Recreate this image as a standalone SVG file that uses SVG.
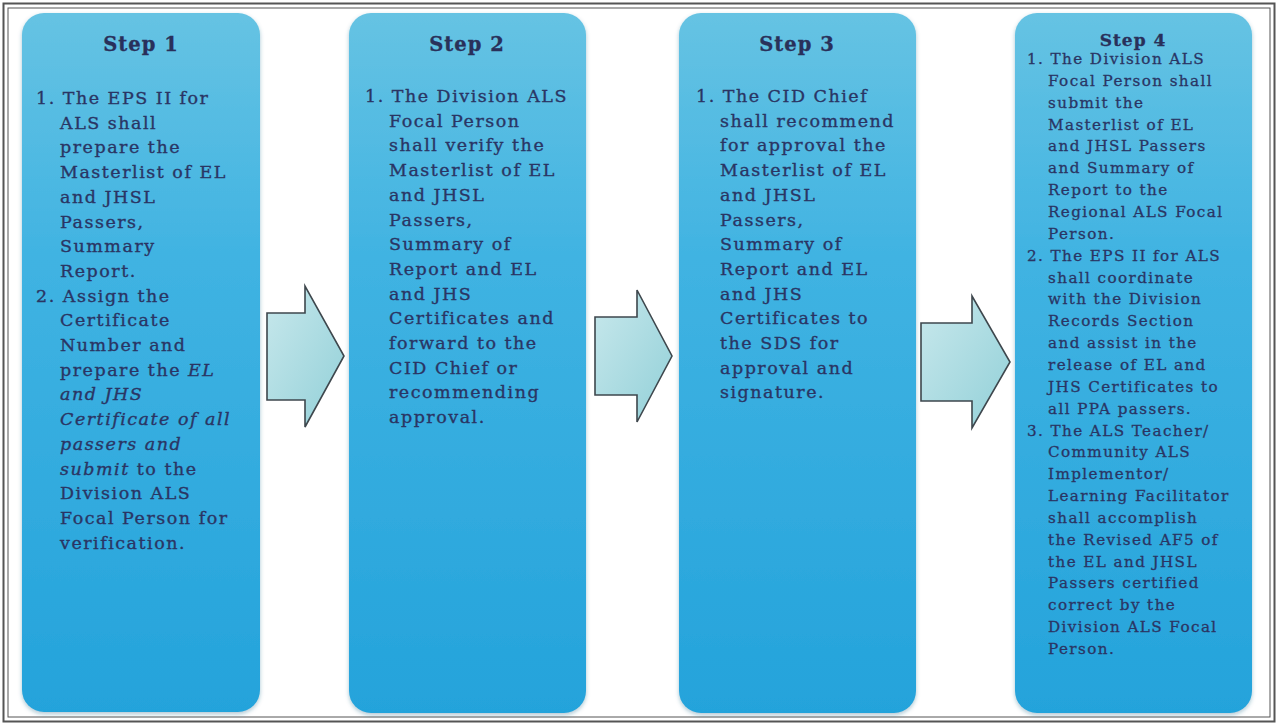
<svg xmlns="http://www.w3.org/2000/svg" width="1278" height="725" viewBox="0 0 1278 725">
<defs>
<linearGradient id="boxGrad" x1="0" y1="0" x2="0" y2="1">
<stop offset="0" stop-color="#66c3e3"/>
<stop offset="0.35" stop-color="#40b3e2"/>
<stop offset="1" stop-color="#24a3db"/>
</linearGradient>
<linearGradient id="arrowGrad" x1="0" y1="0" x2="1" y2="1">
<stop offset="0" stop-color="#c8e8ec"/>
<stop offset="1" stop-color="#92d0d8"/>
</linearGradient>
<filter id="shadow" x="-5%" y="-5%" width="110%" height="110%">
<feDropShadow dx="0" dy="2" stdDeviation="2" flood-color="#1a5f80" flood-opacity="0.35"/>
</filter>
<style>
.box{fill:url(#boxGrad);filter:url(#shadow);}
.arrow{fill:url(#arrowGrad);stroke:#3e474d;stroke-width:1.6;stroke-linejoin:miter;}
.title{font-family:"DejaVu Serif","Liberation Serif",serif;font-weight:bold;fill:#29305a;stroke:#29305a;stroke-width:0.3px;text-anchor:middle;letter-spacing:1px;}
.t{font-family:"DejaVu Serif","Liberation Serif",serif;fill:#2a3564;stroke:#2a3564;stroke-width:0.35px;font-size:17.5px;letter-spacing:1.5px;}
.s{font-family:"DejaVu Serif","Liberation Serif",serif;fill:#2a3564;stroke:#2a3564;stroke-width:0.3px;font-size:15.2px;letter-spacing:1.4px;}
.i{font-style:italic;}
</style>
</defs>
<rect x="0" y="0" width="1278" height="725" fill="#ffffff"/>
<rect x="3.5" y="3.5" width="1271" height="718" fill="none" stroke="#555" stroke-width="2"/>
<rect x="8" y="8" width="1262" height="709" fill="none" stroke="#555" stroke-width="1"/>

<g id="step1">
<rect class="box" x="22" y="13" width="238" height="699" rx="22" ry="22"/>
<text class="title" x="141" y="51" font-size="19.5">Step 1</text>
<text class="t" x="36" y="104">1. The EPS II for</text>
<text class="t" x="60" y="128.7">ALS shall</text>
<text class="t" x="60" y="153.4">prepare the</text>
<text class="t" x="60" y="178.1">Masterlist of EL</text>
<text class="t" x="60" y="202.8">and JHSL</text>
<text class="t" x="60" y="227.5">Passers,</text>
<text class="t" x="60" y="252.2">Summary</text>
<text class="t" x="60" y="276.9">Report.</text>
<text class="t" x="36" y="301.6">2. Assign the</text>
<text class="t" x="60" y="326.3">Certificate</text>
<text class="t" x="60" y="351">Number and</text>
<text class="t" x="60" y="375.7">prepare the <tspan class="i">EL</tspan></text>
<text class="t i" x="60" y="400.4">and JHS</text>
<text class="t i" x="60" y="425.1">Certificate of all</text>
<text class="t i" x="60" y="449.8">passers and</text>
<text class="t" x="60" y="474.5"><tspan class="i">submit</tspan> to the</text>
<text class="t" x="60" y="499.2">Division ALS</text>
<text class="t" x="60" y="523.9">Focal Person for</text>
<text class="t" x="60" y="548.6">verification.</text>
</g>

<g id="step2">
<rect class="box" x="349" y="13" width="237" height="700" rx="22" ry="22"/>
<text class="title" x="467" y="51" font-size="19.5">Step 2</text>
<text class="t" x="365" y="102">1. The Division ALS</text>
<text class="t" x="389" y="126.7">Focal Person</text>
<text class="t" x="389" y="151.4">shall verify the</text>
<text class="t" x="389" y="176.1">Masterlist of EL</text>
<text class="t" x="389" y="200.8">and JHSL</text>
<text class="t" x="389" y="225.5">Passers,</text>
<text class="t" x="389" y="250.2">Summary of</text>
<text class="t" x="389" y="274.9">Report and EL</text>
<text class="t" x="389" y="299.6">and JHS</text>
<text class="t" x="389" y="324.3">Certificates and</text>
<text class="t" x="389" y="349">forward to the</text>
<text class="t" x="389" y="373.7">CID Chief or</text>
<text class="t" x="389" y="398.4">recommending</text>
<text class="t" x="389" y="423.1">approval.</text>
</g>

<g id="step3">
<rect class="box" x="679" y="13" width="237" height="700" rx="22" ry="22"/>
<text class="title" x="797" y="51" font-size="19.5">Step 3</text>
<text class="t" x="696" y="102">1. The CID Chief</text>
<text class="t" x="720" y="126.7">shall recommend</text>
<text class="t" x="720" y="151.4">for approval the</text>
<text class="t" x="720" y="176.1">Masterlist of EL</text>
<text class="t" x="720" y="200.8">and JHSL</text>
<text class="t" x="720" y="225.5">Passers,</text>
<text class="t" x="720" y="250.2">Summary of</text>
<text class="t" x="720" y="274.9">Report and EL</text>
<text class="t" x="720" y="299.6">and JHS</text>
<text class="t" x="720" y="324.3">Certificates to</text>
<text class="t" x="720" y="349">the SDS for</text>
<text class="t" x="720" y="373.7">approval and</text>
<text class="t" x="720" y="398.4">signature.</text>
</g>

<g id="step4">
<rect class="box" x="1015" y="13" width="237" height="700" rx="22" ry="22"/>
<text class="title" x="1133" y="46" font-size="17">Step 4</text>
<text class="s" x="1027" y="64">1. The Division ALS</text>
<text class="s" x="1048" y="85.9">Focal Person  shall</text>
<text class="s" x="1048" y="107.7">submit the</text>
<text class="s" x="1048" y="129.6">Masterlist of EL</text>
<text class="s" x="1048" y="151.4">and JHSL Passers</text>
<text class="s" x="1048" y="173.3">and Summary of</text>
<text class="s" x="1048" y="195.1">Report to the</text>
<text class="s" x="1048" y="217">Regional ALS Focal</text>
<text class="s" x="1048" y="238.8">Person.</text>
<text class="s" x="1027" y="260.7">2. The EPS II for ALS</text>
<text class="s" x="1048" y="282.5">shall coordinate</text>
<text class="s" x="1048" y="304.4">with the Division</text>
<text class="s" x="1048" y="326.2">Records Section</text>
<text class="s" x="1048" y="348.1">and assist in the</text>
<text class="s" x="1048" y="369.9">release of EL and</text>
<text class="s" x="1048" y="391.8">JHS Certificates to</text>
<text class="s" x="1048" y="413.6">all PPA passers.</text>
<text class="s" x="1027" y="435.5">3. The ALS Teacher/</text>
<text class="s" x="1048" y="457.3">Community ALS</text>
<text class="s" x="1048" y="479.2">Implementor/</text>
<text class="s" x="1048" y="501">Learning Facilitator</text>
<text class="s" x="1048" y="522.9">shall accomplish</text>
<text class="s" x="1048" y="544.7">the Revised AF5 of</text>
<text class="s" x="1048" y="566.6">the EL and JHSL</text>
<text class="s" x="1048" y="588.4">Passers certified</text>
<text class="s" x="1048" y="610.3">correct by the</text>
<text class="s" x="1048" y="632.1">Division ALS Focal</text>
<text class="s" x="1048" y="654">Person.</text>
</g>

<g id="connectors">
<polygon class="arrow" points="267,313 305,313 305,286 344,356 305,427 305,400 267,400"/>
<polygon class="arrow" points="595,317 637,317 637,290 672,356 637,422 637,395 595,395"/>
<polygon class="arrow" points="921,323 972,323 972,296 1010,362 972,428 972,401 921,401"/>
</g>
</svg>
